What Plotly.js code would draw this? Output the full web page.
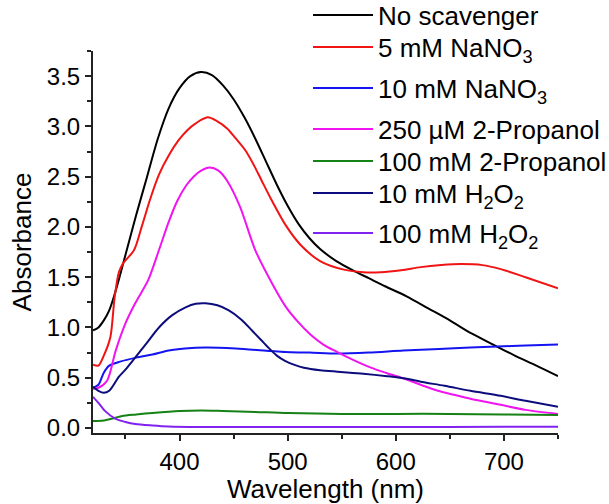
<!DOCTYPE html>
<html>
<head>
<meta charset="utf-8">
<script src="https://cdn.plot.ly/plotly-3.0.1.min.js"></script>
<style>html,body{margin:0;padding:0;background:#fff;}#chart{width:609px;height:504px;}</style>
</head>
<body>
<div id="chart"></div>
<script>
// Series names
const names = [
  "No scavenger",
  "5 mM NaNO<sub>3</sub>",
  "10 mM NaNO<sub>3</sub>",
  "250 \u00b5M 2-Propanol",
  "100 mM 2-Propanol",
  "10 mM H<sub>2</sub>O<sub>2</sub>",
  "100 mM H<sub>2</sub>O<sub>2</sub>"
];
const colors = ["#000000", "#f01414", "#1414f0", "#f014f0", "#148214", "#0c0c7c", "#8222f0"];

// Wavelengths (nm) and absorbance
const wlBlack = [320,325,330,335,340,345,350,360,370,380,390,400,410,420,430,440,450,460,470,480,490,500,510,520,530,545,560,575,590,610,630,650,670,690,710,730,750];
const absBlack = [0.97,1.00,1.07,1.17,1.33,1.52,1.72,2.12,2.50,2.88,3.18,3.38,3.50,3.54,3.51,3.41,3.27,3.09,2.88,2.65,2.42,2.21,2.03,1.89,1.78,1.66,1.57,1.49,1.41,1.31,1.19,1.07,0.94,0.83,0.72,0.62,0.515];

const wlRed = [320,325,330,336,340,344,348,358,365,373,381,390,399,407,415,426,435,444,452,461,469,476,485,498,512,530,552,570,586,605,623,642,660,680,697,720,750];
const absRed = [0.63,0.62,0.72,0.90,1.30,1.55,1.64,1.77,2.00,2.28,2.52,2.71,2.86,2.96,3.03,3.09,3.05,2.98,2.88,2.76,2.61,2.46,2.27,2.02,1.82,1.66,1.575,1.55,1.55,1.57,1.60,1.62,1.63,1.62,1.58,1.50,1.39];

const wlBlue = [320,325,330,335,345,360,375,390,405,424,452,484,498,520,546,575,607,640,669,694,720,750];
const absBlue = [0.40,0.43,0.55,0.62,0.66,0.70,0.73,0.77,0.79,0.80,0.79,0.765,0.755,0.75,0.74,0.75,0.77,0.785,0.80,0.81,0.82,0.83];

const wlMagenta = [320,325,333,341,350,359,371,381,390,398,406,413,420,428,436,444,456,470,486,498,510,521,533,546,560,577,592,608,623,639,654,669,683,697,720,750];
const absMagenta = [0.39,0.40,0.47,0.77,1.04,1.24,1.47,1.77,2.05,2.26,2.41,2.50,2.56,2.59,2.56,2.46,2.20,1.77,1.43,1.21,1.05,0.93,0.83,0.755,0.68,0.60,0.545,0.49,0.43,0.37,0.33,0.29,0.26,0.23,0.18,0.14];

const wlGreen = [320,330,340,347,360,375,400,420,440,470,500,550,600,650,700,750];
const absGreen = [0.07,0.075,0.10,0.12,0.135,0.15,0.17,0.175,0.17,0.16,0.148,0.14,0.14,0.14,0.135,0.13];

const wlNavy = [320,325,330,335,344,350,359,370,381,393,405.6,415,424,435,445.6,457,467,475,483,490,498,507,515,530,546,570,592,610,623,645,669,697,720,750];
const absNavy = [0.41,0.37,0.35,0.37,0.51,0.58,0.70,0.85,1.00,1.12,1.20,1.235,1.24,1.22,1.17,1.08,0.97,0.88,0.79,0.72,0.665,0.625,0.60,0.575,0.56,0.54,0.515,0.49,0.46,0.42,0.37,0.32,0.27,0.21];

const wlPurple = [320,325,331,341,350,359,375,390,420,500,600,700,750];
const absPurple = [0.31,0.25,0.17,0.09,0.06,0.04,0.025,0.015,0.01,0.01,0.01,0.012,0.012];

const xs = [wlBlack, wlRed, wlBlue, wlMagenta, wlGreen, wlNavy, wlPurple];
const ys = [absBlack, absRed, absBlue, absMagenta, absGreen, absNavy, absPurple];

const xTicks = [400, 500, 600, 700];
const yTicks = [0, 0.5, 1.0, 1.5, 2.0, 2.5, 3.0, 3.5];
const yTickText = ["0.0","0.5","1.0","1.5","2.0","2.5","3.0","3.5"];

const font = "Liberation Sans, Arial, Helvetica, sans-serif";

// one legend box per entry so that rows can be spaced like the original
const legendKeys = names.map((n, i) => i === 0 ? "legend" : "legend" + (i + 1));
const legendRowPx = [15, 47, 88, 129, 161, 193, 233];
const plotTop = 51, plotBottom = 433;

const traces = names.map((n, i) => ({
  x: xs[i], y: ys[i], name: n, type: "scatter", mode: "lines",
  legend: legendKeys[i],
  line: {color: colors[i], width: 2, shape: "spline", smoothing: 0.8}
}));

const axisCommon = {
  showline: true, linecolor: "#222", linewidth: 2, mirror: false,
  ticks: "outside", ticklen: 6, tickwidth: 2, tickcolor: "#222",
  showgrid: false, zeroline: false,
  tickfont: {family: font, size: 24, color: "#000"}
};

const layout = {
  width: 609, height: 504,
  margin: {l: 93, r: 51, t: plotTop, b: 504 - plotBottom, autoexpand: false},
  paper_bgcolor: "#fff", plot_bgcolor: "#fff",
  font: {family: font, color: "#000"},
  xaxis: Object.assign({}, axisCommon, {
    range: [320, 750], tickvals: xTicks,
    minor: {dtick: 50, tick0: 0, ticks: "outside", ticklen: 4, tickwidth: 2, tickcolor: "#222"},
    title: {text: "Wavelength (nm)", font: {family: font, size: 26, color: "#000"}, standoff: 3}
  }),
  yaxis: Object.assign({}, axisCommon, {
    range: [-0.05, 3.75], tickvals: yTicks, ticktext: yTickText,
    minor: {dtick: 0.25, tick0: 0, ticks: "outside", ticklen: 4, tickwidth: 2, tickcolor: "#222"},
    title: {text: "Absorbance", font: {family: font, size: 26, color: "#000"}, standoff: 8}
  }),
  showlegend: true
};

legendKeys.forEach((k, i) => {
  layout[k] = {
    x: (308 - 93) / 465, xanchor: "left",
    y: (plotBottom - legendRowPx[i]) / (plotBottom - plotTop), yanchor: "middle",
    bgcolor: "rgba(0,0,0,0)", borderwidth: 0,
    font: {family: font, size: 26, color: "#000"},
    itemwidth: 60, tracegroupgap: 0
  };
});

Plotly.newPlot("chart", traces, layout, {staticPlot: true, displayModeBar: false});
</script>
</body>
</html>
